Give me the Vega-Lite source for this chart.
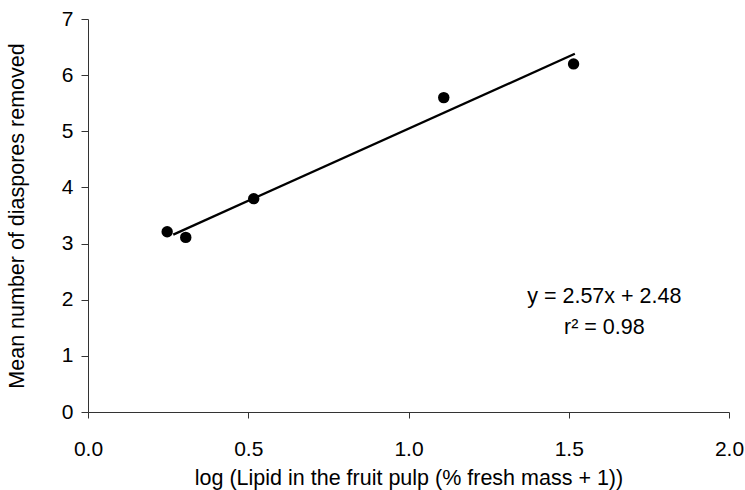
{
  "$schema": "https://vega.github.io/schema/vega-lite/v6.json",
  "autosize": "none",
  "width": 641,
  "height": 393,
  "padding": {"left": 88, "top": 19, "right": 16, "bottom": 78},
  "background": "white",
  "config": {
    "view": {"stroke": null},
    "font": "Liberation Sans",
    "axis": {
      "grid": false,
      "domainColor": "#333333",
      "tickColor": "#333333",
      "domainWidth": 1,
      "tickWidth": 1,
      "labelColor": "black",
      "titleColor": "black",
      "labelFont": "Liberation Sans",
      "titleFont": "Liberation Sans",
      "labelFontSize": 21,
      "titleFontSize": 21.5,
      "titleFontWeight": "normal"
    }
  },
  "datasets": {
    "points": [
      {"x": 0.247, "y": 3.21},
      {"x": 0.305, "y": 3.11},
      {"x": 0.517, "y": 3.80},
      {"x": 1.110, "y": 5.60},
      {"x": 1.515, "y": 6.20}
    ],
    "fit": [
      {"x": 0.266, "y": 3.16},
      {"x": 1.519, "y": 6.38}
    ],
    "notes": [
      {"x": 1.611, "y": 1.94, "label": "y = 2.57x + 2.48"},
      {"x": 1.611, "y": 1.39, "label": "r² = 0.98"}
    ]
  },
  "layer": [
    {
      "data": {"name": "fit"},
      "mark": {"type": "line", "color": "black", "strokeWidth": 2.3},
      "encoding": {
        "x": {
          "field": "x", "type": "quantitative",
          "scale": {"domain": [0, 2], "nice": false, "zero": false},
          "axis": {
            "values": [0, 0.5, 1, 1.5, 2],
            "format": ".1f",
            "tickSize": 6,
            "labelPadding": 20,
            "labelFlush": false,
            "title": "log (Lipid in the fruit pulp (% fresh mass + 1))",
            "titlePadding": 8
          }
        },
        "y": {
          "field": "y", "type": "quantitative",
          "scale": {"domain": [0, 7], "nice": false},
          "axis": {
            "values": [0, 1, 2, 3, 4, 5, 6, 7],
            "format": "d",
            "tickSize": 7,
            "labelPadding": 8,
            "labelFlush": false,
            "title": "Mean number of diaspores removed",
            "titlePadding": 33
          }
        }
      }
    },
    {
      "data": {"name": "points"},
      "mark": {"type": "point", "shape": "circle", "filled": true, "color": "black", "opacity": 1, "size": 130},
      "encoding": {
        "x": {"field": "x", "type": "quantitative"},
        "y": {"field": "y", "type": "quantitative"}
      }
    },
    {
      "data": {"name": "notes"},
      "mark": {"type": "text", "align": "center", "baseline": "alphabetic", "fontSize": 21.5, "font": "Liberation Sans", "color": "black"},
      "encoding": {
        "x": {"field": "x", "type": "quantitative"},
        "y": {"field": "y", "type": "quantitative"},
        "text": {"field": "label", "type": "nominal"}
      }
    }
  ]
}
